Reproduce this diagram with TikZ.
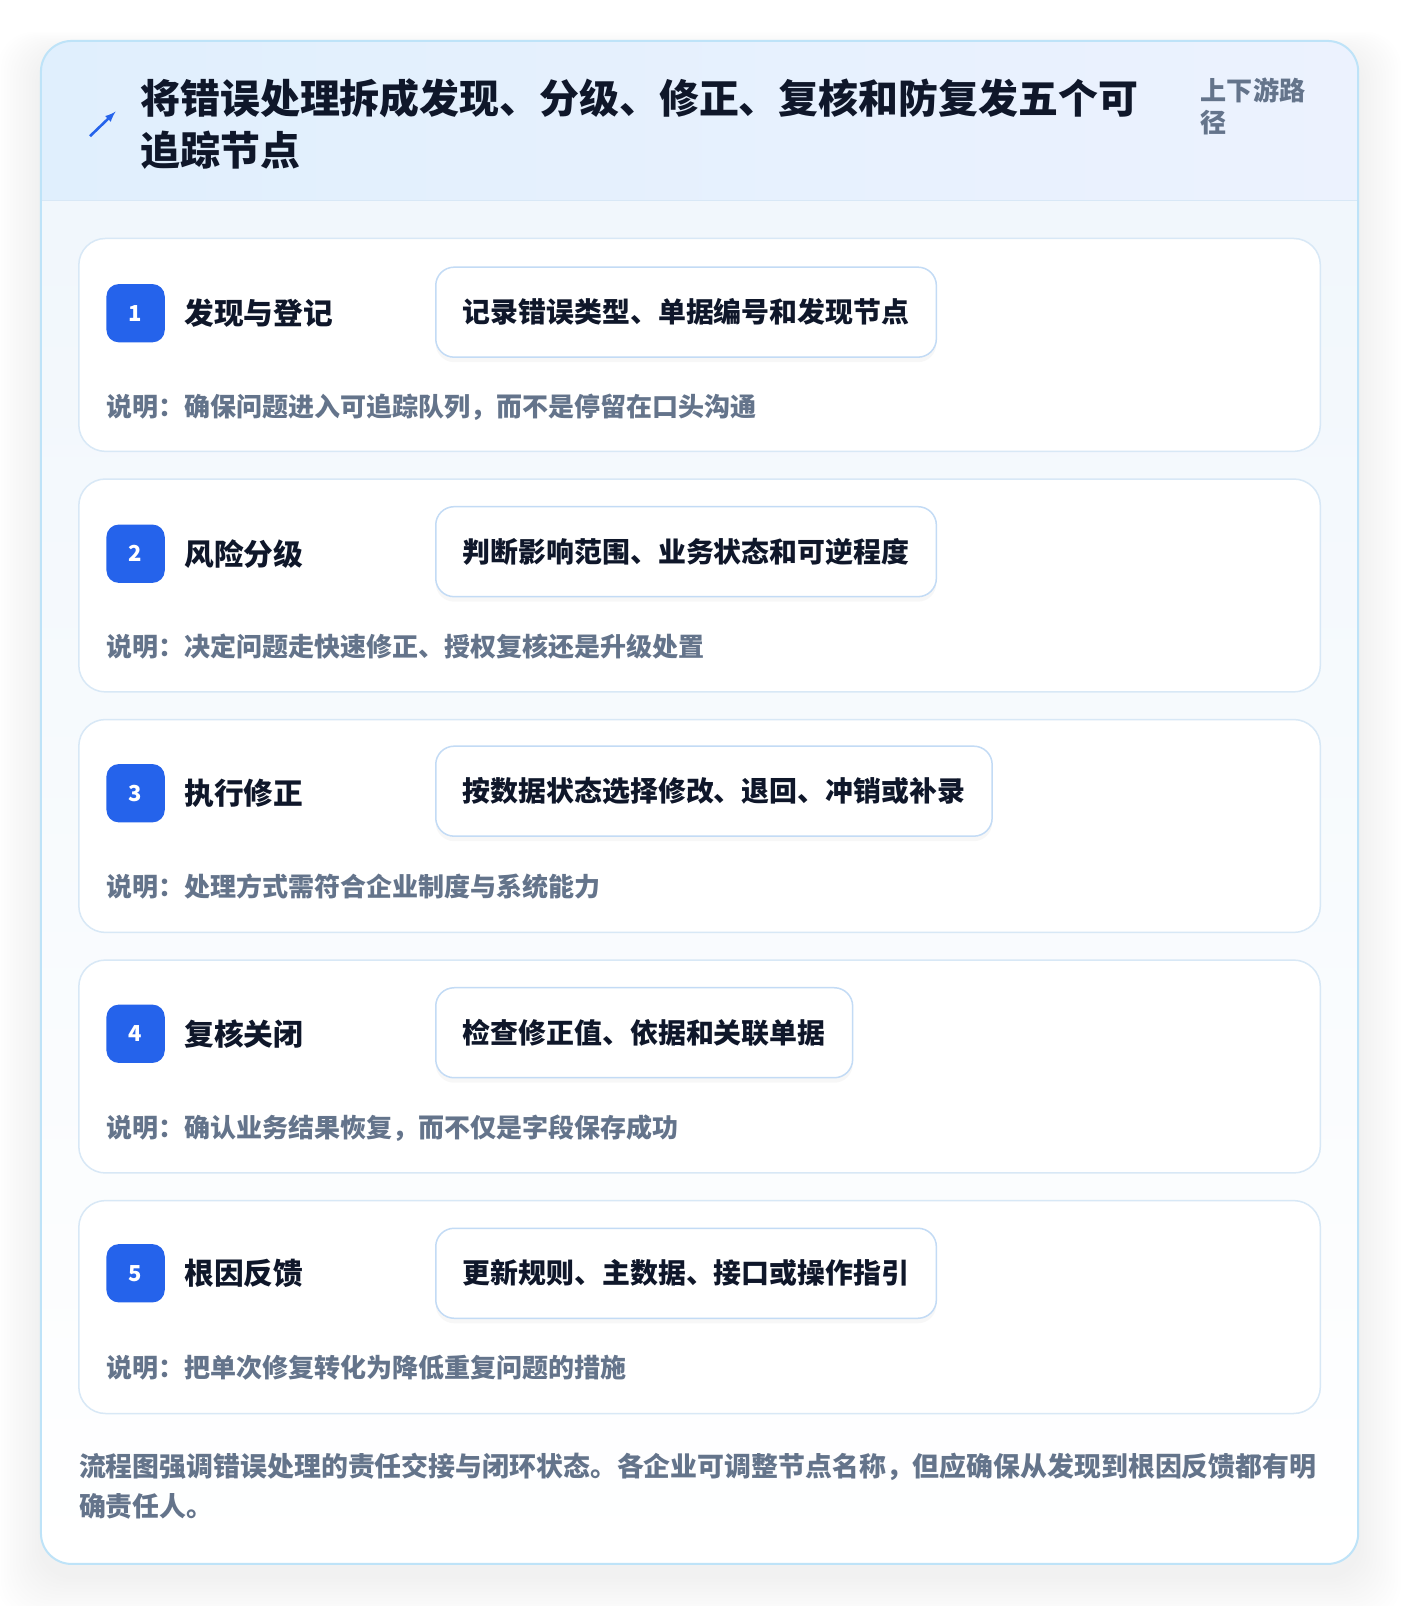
\documentclass[tikz,border=0pt]{standalone}
\usepackage{fontspec}
\setmainfont{Noto Sans CJK SC}
\usetikzlibrary{calc,shadows}

\definecolor{inkdark}{HTML}{0F172A}
\definecolor{inkgrey}{HTML}{64748B}
\definecolor{badgeblue}{HTML}{2563EB}
\definecolor{panelline}{HTML}{BEE3F8}
\definecolor{headleft}{HTML}{E0EFFD}
\definecolor{headright}{HTML}{ECF2FE}
\definecolor{bodytop}{HTML}{F1F7FC}
\definecolor{cardline}{HTML}{D8E8F6}
\definecolor{boxline}{HTML}{C3DBF5}

\begin{document}
\begin{tikzpicture}[x=1.0235pt,y=-1.0235pt,
		card/.style={draw=cardline, line width=1.5pt, fill=white, rounded corners=26.6pt, minimum width=1241.5pt, minimum height=212.9pt},
		badge/.style={fill=badgeblue, text=white, rounded corners=12.3pt, minimum size=58.3pt, inner sep=0pt, font=\bfseries\fontsize{22}{26}\selectfont},
		steplabel/.style={anchor=west, inner sep=0pt, text=inkdark, font=\bfseries\fontsize{29.7}{34}\selectfont},
		stepbox/.style={anchor=west, draw=boxline, line width=1.5pt, fill=white, rounded corners=18.4pt, minimum height=90pt, inner xsep=27.1pt, text=inkdark, font=\bfseries\fontsize{27.9}{32}\selectfont, drop shadow={opacity=0.06, shadow xshift=0pt, shadow yshift=-5pt}},
		note/.style={anchor=west, inner sep=0pt, text=inkgrey, font=\bfseries\fontsize{26}{30}\selectfont}]
		\fill[white] (0,0) rectangle (1368,1569);
		% soft shadow round the panel
		\foreach \s in {3,6,...,42}
			\fill[black, opacity=0.005, rounded corners=36pt] (40-\s,52-0.5*\s) rectangle (1327+\s,1540+\s);
		% panel
		\begin{scope}
			\clip[rounded corners=30.7pt] (40,40) rectangle (1327,1528);
			\shade[top color=bodytop, bottom color=white] (40,196) rectangle (1327,1528);
			\shade[left color=headleft, right color=headright] (40,40) rectangle (1327,196);
		\end{scope}
		\draw[cardline, line width=1.5pt] (40,196) -- (1327,196);
		\draw[panelline, line width=2pt, rounded corners=30.7pt] (40,40) rectangle (1327,1528);
		% header
		\draw[-latex, badgeblue, line width=2.6pt] (88,133) -- (113,109);
		\node[anchor=west, inner sep=0pt, align=left, text=inkdark, font=\bfseries\fontsize{39.9}{52.2}\selectfont] (title) at (137,121) {将错误处理拆成发现、分级、修正、复核和防复发五个可\\追踪节点};
		\node[anchor=west, inner sep=0pt, align=left, text=inkgrey, font=\bfseries\fontsize{26.1}{32.8}\selectfont] (route) at (1173,104) {上下游路\\径};
		% step 1
		\node[card] (card1) at (683.5,337) {};
		\node[badge] (badge1) at (132.5,306) {1};
		\node[steplabel] (label1) at (180,306) {发现与登记};
		\node[stepbox] (box1) at (425,305) {记录错误类型、单据编号和发现节点};
		\node[note] (note1) at (104,398) {说明：确保问题进入可追踪队列，而不是停留在口头沟通};
		% step 2
		\node[card] (card2) at (683.5,572) {};
		\node[badge] (badge2) at (132.5,541) {2};
		\node[steplabel] (label2) at (180,541) {风险分级};
		\node[stepbox] (box2) at (425,539) {判断影响范围、业务状态和可逆程度};
		\node[note] (note2) at (104,632) {说明：决定问题走快速修正、授权复核还是升级处置};
		% step 3
		\node[card] (card3) at (683.5,807) {};
		\node[badge] (badge3) at (132.5,775) {3};
		\node[steplabel] (label3) at (180,775) {执行修正};
		\node[stepbox] (box3) at (425,773) {按数据状态选择修改、退回、冲销或补录};
		\node[note] (note3) at (104,866) {说明：处理方式需符合企业制度与系统能力};
		% step 4
		\node[card] (card4) at (683.5,1042) {};
		\node[badge] (badge4) at (132.5,1010) {4};
		\node[steplabel] (label4) at (180,1010) {复核关闭};
		\node[stepbox] (box4) at (425,1009) {检查修正值、依据和关联单据};
		\node[note] (note4) at (104,1102) {说明：确认业务结果恢复，而不仅是字段保存成功};
		% step 5
		\node[card] (card5) at (683.5,1277) {};
		\node[badge] (badge5) at (132.5,1244) {5};
		\node[steplabel] (label5) at (180,1244) {根因反馈};
		\node[stepbox] (box5) at (425,1244) {更新规则、主数据、接口或操作指引};
		\node[note] (note5) at (104,1336) {说明：把单次修复转化为降低重复问题的措施};
		% footer
		\node[anchor=west, inner sep=0pt, align=left, text=inkgrey, font=\bfseries\fontsize{26.9}{40.9}\selectfont] (footer) at (77,1452) {流程图强调错误处理的责任交接与闭环状态。各企业可调整节点名称，但应确保从发现到根因反馈都有明\\确责任人。};
		% page size
		\pgfresetboundingbox
		\useasboundingbox (0,0) rectangle (1367.9,1569.1);
	\end{tikzpicture}
\end{document}
